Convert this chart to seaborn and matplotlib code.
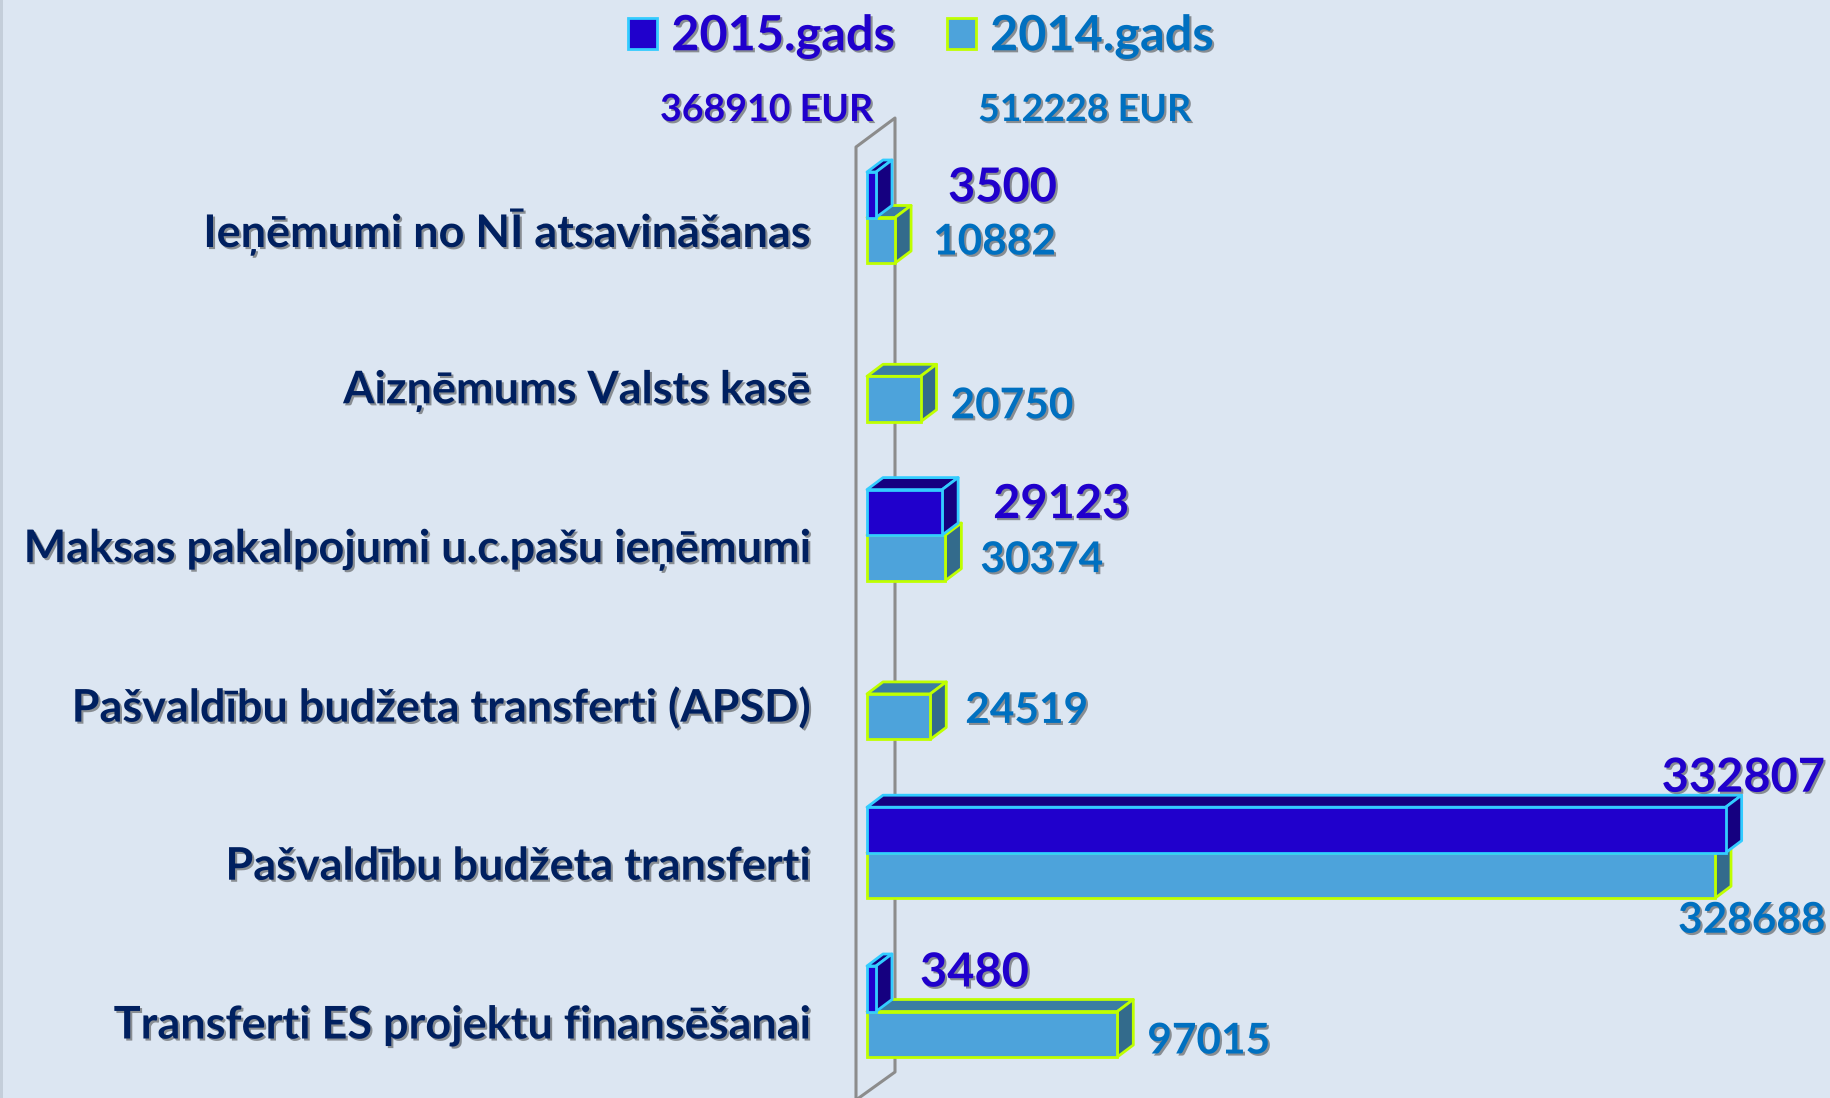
import matplotlib
matplotlib.use("Agg")
import matplotlib.pyplot as plt
import matplotlib.patheffects as pe
from matplotlib.patches import Polygon, Patch, Rectangle
from matplotlib.transforms import ScaledTranslation
import numpy as np
import pandas as pd
import seaborn as sns

categories = ["Ieņēmumi no NĪ atsavināšanas", "Aizņēmums Valsts kasē",
              "Maksas pakalpojumi u.c.pašu ieņēmumi", "Pašvaldību budžeta transferti (APSD)",
              "Pašvaldību budžeta transferti", "Transferti ES projektu finansēšanai"]
values_2015 = [3500, np.nan, 29123, np.nan, 332807, 3480]
values_2014 = [10882, 20750, 30374, 24519, 328688, 97015]
series_names = ["2015.gads", "2014.gads"]
series_totals = ["368910 EUR", "512228 EUR"]

W, H = 1831, 1098
BG = "#DCE6F2"
EUR_PER_PX = 1 / 0.00258
PX_PER_CAT = 158.8
FIRST_CAT_Y = 217.5
BAR0_X = 867
WALL_X = 856
WALL_BACK_X = 895

# front, side, top, edge
styles = {
    "2015.gads": ("#2000CC", "#150080", "#150080", "#33CCFF"),
    "2014.gads": ("#4DA3DB", "#336B8C", "#3A7DA3", "#BFFF00"),
}
text_colors = {"2015.gads": "#2000CC", "2014.gads": "#0070C0"}
label_color = "#002060"

# label offsets from bar end / category centre, in pixels
offsets_2015 = [(72, 30), None, (51, 31), None, (-64, 75), (44, 39)]
offsets_2014 = [(38, -25), (30, -30), (35, -25), (35, -17), (-37, -68), (30, -30)]


def shadow():
    return [pe.withSimplePatchShadow(offset=(1.5, -1.5), shadow_rgbFace="#444444", alpha=0.55)]


def y_from_px(py):
    return (py - FIRST_CAT_Y) / PX_PER_CAT


def x_from_px(px):
    return (px - BAR0_X) * EUR_PER_PX


plt.rcParams["font.family"] = ["Lato", "DejaVu Sans"]
df = pd.DataFrame({"category": categories * 2,
                   "series": np.repeat(series_names, len(categories)),
                   "value": values_2015 + values_2014})

fig = plt.figure(figsize=(W / 100, H / 100), dpi=100, facecolor=BG)
ax = fig.add_axes([WALL_X / W, 0, 1 - WALL_X / W, 1], facecolor="none")

sns.barplot(data=df, y="category", x="value", hue="series", order=categories,
            hue_order=series_names, orient="h", width=91 / PX_PER_CAT, gap=0, saturation=1,
            palette=[styles[s][0] for s in series_names], legend=False, ax=ax)

ax.set_xlim(x_from_px(WALL_X), x_from_px(W))
ax.set_ylim(y_from_px(H), y_from_px(0))
ax.set_xlabel("")
ax.set_ylabel("")
ax.set_xticks([])
sns.despine(ax=ax, left=True, bottom=True)
ax.tick_params(axis="y", length=0, pad=33)
label_shift = ScaledTranslation(0, -10 / 100, fig.dpi_scale_trans)
for lab in ax.get_yticklabels():
    lab.set_fontsize(32.4)
    lab.set_fontweight("bold")
    lab.set_color(label_color)
    lab.set_path_effects(shadow())
    lab.set_transform(lab.get_transform() + label_shift)

dx = 16 * EUR_PER_PX
dy = 12 / PX_PER_CAT

# wall
wall_f = x_from_px(WALL_X)
wall_b = x_from_px(WALL_BACK_X)
ax.plot([wall_f, wall_f, wall_b, wall_b, wall_f],
        [y_from_px(1120), y_from_px(147), y_from_px(118), y_from_px(1072), y_from_px(1100)],
        color="#8C8C8C", lw=2.2, zorder=1, clip_on=False)

# extrude the bars seaborn drew: 2014 first so 2015 sits in front
for s_idx, (name, container) in reversed(list(enumerate(zip(series_names, ax.containers)))):
    front, side, top, edge = styles[name]
    z = 3 + 2 * (1 - s_idx)
    for bar in container:
        if not np.isfinite(bar.get_width()) or bar.get_width() == 0:
            continue
        x0, y0 = bar.get_x(), bar.get_y()
        w, h = bar.get_width(), bar.get_height()
        x1, y1 = x0 + w, y0 + h
        bar.set_edgecolor(edge)
        bar.set_linewidth(2)
        bar.set_zorder(z + 1)
        ax.add_patch(Polygon([(x0, y0), (x1, y0), (x1 + dx, y0 - dy), (x0 + dx, y0 - dy)],
                             facecolor=top, edgecolor=edge, lw=2, zorder=z, joinstyle="round"))
        ax.add_patch(Polygon([(x1, y0), (x1 + dx, y0 - dy), (x1 + dx, y1 - dy), (x1, y1)],
                             facecolor=side, edgecolor=edge, lw=2, zorder=z, joinstyle="round"))

# value labels
for name, vals, offs in [("2015.gads", values_2015, offsets_2015), ("2014.gads", values_2014, offsets_2014)]:
    size = 33.8 if name == "2015.gads" else 30.5
    for i, (v, off) in enumerate(zip(vals, offs)):
        if off is None:
            continue
        ax.annotate(f"{v:.0f}", xy=(v, i), xytext=off, textcoords="offset pixels",
                    color=text_colors[name], fontsize=size, fontweight="bold", va="center", ha="left",
                    zorder=10, annotation_clip=False, path_effects=shadow())

# legend and yearly totals
handles = [Patch(facecolor=styles[s][0], edgecolor=styles[s][3], lw=2) for s in series_names]
leg = fig.legend(handles, series_names, ncols=2, loc="center left",
                 bbox_to_anchor=(628 / W, 1 - 36 / H), frameon=False,
                 prop={"size": 35, "weight": "bold"}, handlelength=0.6, handleheight=0.6,
                 handletextpad=0.29, columnspacing=1.06, borderpad=0, borderaxespad=0)
for txt, s in zip(leg.get_texts(), series_names):
    txt.set_color(text_colors[s])
    txt.set_path_effects(shadow())

for s, total, x in zip(series_names, series_totals, [660, 978]):
    fig.text(x / W, 1 - 110 / H, total, color=text_colors[s], fontsize=27, fontweight="bold",
             ha="left", va="center", path_effects=shadow())

# thin darker strip on the left edge of the slide
fig.add_artist(Rectangle((0, 0), 3 / W, 1, transform=fig.transFigure, facecolor="#C4CEDA", edgecolor="none"))

fig.savefig("out.png", dpi=100, facecolor=BG)
